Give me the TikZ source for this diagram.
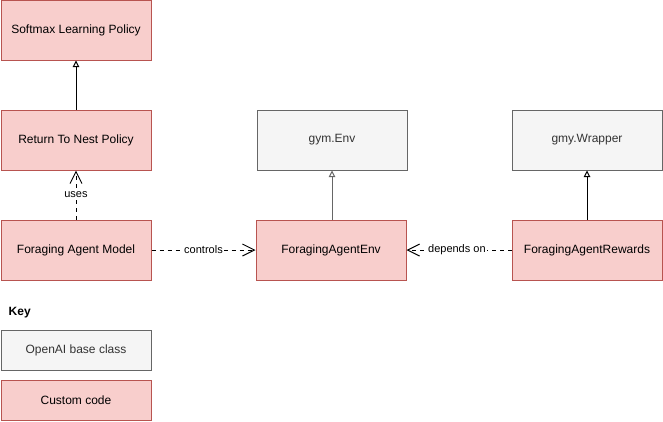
\documentclass[tikz,border=0pt]{standalone}
\usepackage{fontspec}
\setmainfont{Liberation Sans}
\usetikzlibrary{arrows.meta}
\definecolor{redfill}{HTML}{F8CECC}
\definecolor{redline}{HTML}{B85450}
\definecolor{grayfill}{HTML}{F5F5F5}
\definecolor{grayline}{HTML}{666666}
\begin{document}
\begin{tikzpicture}[x=0.75pt,y=-0.75pt,
  custombox/.style={draw=redline,fill=redfill,line width=0.75pt,minimum width=112.5pt,minimum height=45pt,inner sep=0pt,font=\fontsize{9pt}{11pt}\selectfont},
  basebox/.style={draw=grayline,fill=grayfill,line width=0.75pt,minimum width=112.5pt,minimum height=45pt,inner sep=0pt,font=\fontsize{9pt}{11pt}\selectfont,text=black!80},
  keybox/.style={minimum height=30pt},
  inherit/.style={line width=0.75pt,-{Triangle[open,length=5pt,width=5pt]}},
  depend/.style={line width=0.75pt,dashed,dash pattern=on 3pt off 3pt,-{Straight Barb[length=9pt,width=9pt]}},
  elabel/.style={fill=white,inner sep=1pt,font=\fontsize{8.25pt}{10pt}\selectfont}]
\useasboundingbox (0,0) rectangle (663,421);
\node[custombox] (soft) at (76,30) {Softmax Learning Policy};
\node[custombox] (nest) at (76,140) {Return To Nest Policy};
\node[custombox] (model) at (76,250) {Foraging Agent Model};
\node[basebox] (gym) at (332,140) {gym.Env};
\node[custombox] (env) at (331,250) {ForagingAgentEnv};
\node[basebox] (wrap) at (587,140) {gmy.Wrapper};
\node[custombox] (rew) at (587,250) {ForagingAgentRewards};
\node[font=\bfseries\fontsize{9pt}{11pt}\selectfont,anchor=west] (key) at (4,313) {Key};
\node[basebox,keybox] (kbase) at (76,350) {OpenAI base class};
\node[custombox,keybox] (kcust) at (76,400) {Custom code};
\draw[inherit] (nest) -- (soft);
\draw[depend] (model) -- node[elabel]{uses} (nest);
\draw[inherit,draw=grayline] (env.north -| gym) -- (gym);
\draw[inherit] (rew) -- (wrap);
\draw[depend] (model) -- node[elabel]{controls} (env);
\draw[depend] (rew) -- node[elabel,pos=0.52]{depends on} (env);
\end{tikzpicture}
\end{document}
